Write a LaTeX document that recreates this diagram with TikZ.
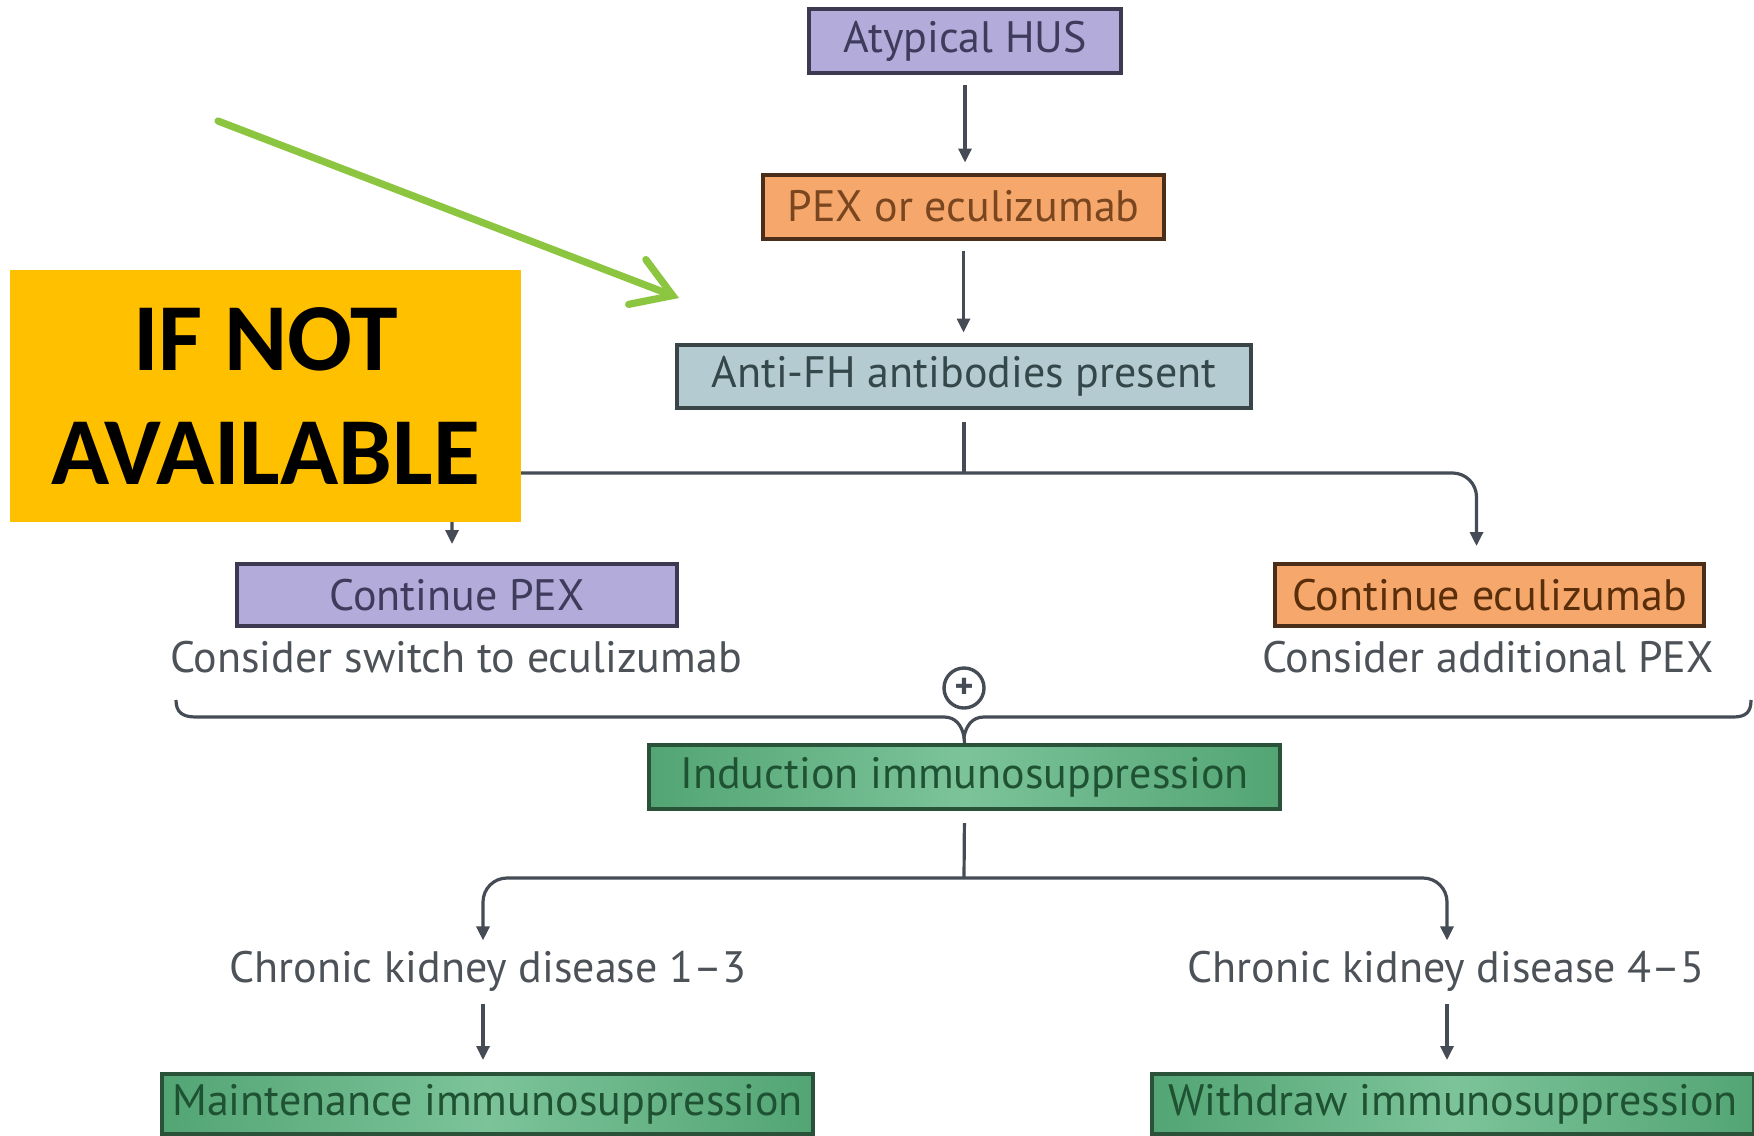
\documentclass[tikz,border=0pt]{standalone}
\usepackage{fontspec}
\setmainfont{PT Sans}
\newfontfamily\headfont{Carlito}
\usetikzlibrary{arrows.meta}

\definecolor{linec}{HTML}{454C55}
\definecolor{notec}{HTML}{4D5258}
\definecolor{purpfill}{HTML}{B3ABD9}
\definecolor{purpline}{HTML}{3C3950}
\definecolor{purptext}{HTML}{3E3B5C}
\definecolor{orfill}{HTML}{F6A86C}
\definecolor{orline}{HTML}{4B2E1A}
\definecolor{ortext}{HTML}{7A4620}
\definecolor{ortextdark}{HTML}{5A2E0A}
\definecolor{blfill}{HTML}{B4CCD1}
\definecolor{blline}{HTML}{3A4548}
\definecolor{bltext}{HTML}{34474B}
\definecolor{grfillA}{HTML}{53A574}
\definecolor{grfillB}{HTML}{7CC39A}
\definecolor{grline}{HTML}{2A5238}
\definecolor{grtext}{HTML}{1F5233}
\definecolor{pointer}{HTML}{8CC640}
\definecolor{warnfill}{HTML}{FFC000}

\newcommand\boxfont{\fontsize{22}{25}\selectfont}

\begin{document}
\begin{tikzpicture}[x=0.5pt,y=-0.5pt,
  conn/.style={draw=linec, line width=1.6pt},
  arr/.style={conn, -{Triangle[length=7pt,width=6.5pt]}},
  box/.style={draw, line width=2pt, inner sep=0pt, font=\boxfont, minimum height=32pt},
  purplebox/.style={box, fill=purpfill, draw=purpline, text=purptext},
  orangebox/.style={box, fill=orfill, draw=orline, text=ortext},
  bluebox/.style={box, fill=blfill, draw=blline, text=bltext},
  greenbox/.style={box, left color=grfillA, right color=grfillA, middle color=grfillB, draw=grline, text=grtext},
  note/.style={inner sep=2pt, font=\boxfont, text=notec}]

\useasboundingbox (0,0) rectangle (1754,1135);
\fill[white] (0,0) rectangle (1754,1135);

% boxes of the flow chart
\node[purplebox, minimum width=156pt] (hus) at (965,41) {Atypical HUS};
\node[orangebox, minimum width=200.5pt] (pex) at (963.5,206.5) {PEX or eculizumab};
\node[bluebox, minimum width=287pt, minimum height=31.5pt] (anti) at (964,376) {Anti-FH antibodies present};
\node[purplebox, minimum width=220pt, minimum height=31pt] (cpex) at (457,595) {Continue PEX};
\node[note] (cpexnote) at (456,657) {Consider switch to eculizumab};
\node[orangebox, minimum width=214.5pt, minimum height=31pt, text=ortextdark] (cecu) at (1489.5,595) {Continue eculizumab};
\node[note] (cecunote) at (1488,657) {Consider additional PEX};
\node[circle, draw=linec, line width=1.7pt, minimum size=20pt, inner sep=0pt, text=linec, font=\bfseries\fontsize{18}{18}\selectfont] (plus) at (964,688) {+};
\node[greenbox, minimum width=315.5pt] (ind) at (964.5,777) {Induction immunosuppression};
\node[note] (ckd13) at (488,971) {Chronic kidney disease 1–3};
\node[note] (ckd45) at (1446,971) {Chronic kidney disease 4–5};
\node[greenbox, minimum width=325.5pt, minimum height=30pt] (maint) at (487.5,1104) {Maintenance immunosuppression};
\node[greenbox, minimum width=301pt, minimum height=30pt] (wd) at (1453,1104) {Withdraw immunosuppression};

% main column
\draw[arr, shorten <=5pt, shorten >=5pt] (hus.south) -- (hus.south |- pex.north);
\draw[arr, shorten <=5pt, shorten >=5pt] (pex.south) -- (pex.south |- anti.north);

% first split
\coordinate (split1) at (964,473);
\draw[conn, shorten <=6pt] (anti.south) -- (split1);
\draw[arr, rounded corners=12pt, shorten >=9pt] (split1) -| ([xshift=-2.5pt]cpex.north);
\draw[arr, rounded corners=12pt, shorten >=8pt] (split1) -| ([xshift=-6.5pt]cecu.north);

% brace joining both branches
\coordinate (bl) at (176,700);
\coordinate (br) at (1751,700);
\coordinate (cusp) at (964,737);
\draw[conn] (bl) .. controls (176,712) and (182,717) .. (196,717) -- (944,717)
  .. controls (956,717) and (962,726) .. (cusp)
  .. controls (966,726) and (972,717) .. (984,717) -- (1733,717)
  .. controls (1746,717) and (1751,712) .. (br);
\draw[conn] (cusp) -- (ind.north);

% second split
\coordinate (split2) at (964,878);
\draw[conn, shorten <=6pt] (ind.south) -- (split2);
\draw[arr, rounded corners=12pt, shorten >=3pt] (split2) -| ([xshift=-2.5pt]ckd13.north);
\draw[arr, rounded corners=12pt, shorten >=3pt] (split2) -| ([xshift=0.5pt]ckd45.north);
\draw[arr, shorten <=4pt, shorten >=6pt] ([xshift=-2.5pt]ckd13.south) -- ([xshift=-2.5pt]ckd13.south |- maint.north);
\draw[arr, shorten <=4pt, shorten >=6pt] ([xshift=0.5pt]ckd45.south) -- ([xshift=0.5pt]ckd45.south |- wd.north);

% warning label and pointer
\node[fill=warnfill, minimum width=255.5pt, minimum height=126pt, inner sep=0pt,
      align=center, text=black, font=\headfont\bfseries\fontsize{48}{57}\selectfont] (ifna) at (265.5,396) {IF NOT\\AVAILABLE};
\coordinate (gstart) at (218,121);
\coordinate (gtip) at (679,298);
\draw[draw=pointer, line width=3.6pt, line cap=round,
      -{Straight Barb[length=19pt,width=24pt,line cap=round]}] (gstart) -- (gtip);
\end{tikzpicture}
\end{document}
